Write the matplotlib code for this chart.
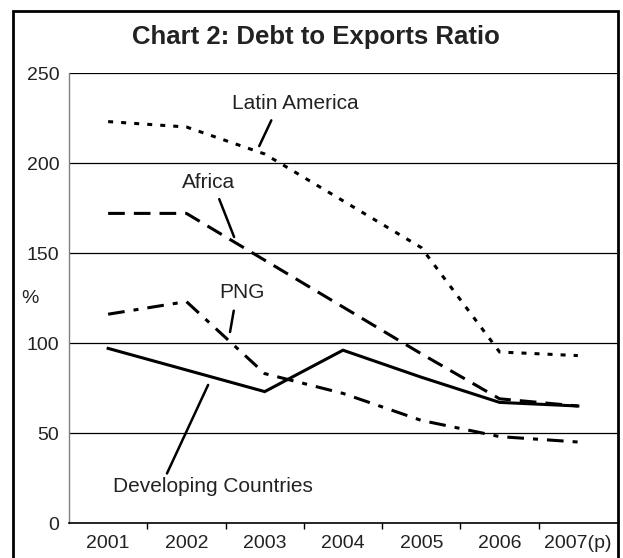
import matplotlib.pyplot as plt
from matplotlib.patches import Rectangle

plt.rcParams['font.family'] = ['Liberation Sans', 'DejaVu Sans']
plt.rcParams['lines.scale_dashes'] = False

years = ['2001', '2002', '2003', '2004', '2005', '2006', '2007(p)']
latin_america = [223, 220, 205, 179, 153, 95, 93]
africa = [172, 172, 146, 120, 94, 69, 65]
png = [116, 123, 83, 72, 57, 48, 45]
developing = [97, 85, 73, 96, 81, 67, 65]

text_col = '#222222'

fig = plt.figure(figsize=(6.23, 5.58), dpi=100)
ax = fig.add_axes([69 / 623, 1 - 523 / 558, 548 / 623, 450 / 558])

x = range(len(years))
ax.plot(x, latin_america, color='black', lw=2.2, dashes=(3.6, 5.8))
ax.plot(x, africa, color='black', lw=2.2, dashes=(12, 6.5))
ax.plot(x, png, color='black', lw=2.2, dashes=(12, 6.5, 3.6, 6.5))
ax.plot(x, developing, color='black', lw=2.2, solid_joinstyle='miter')

ax.set_xlim(-0.5, len(years) - 0.5)
ax.set_ylim(0, 250)
ax.set_yticks([0, 50, 100, 150, 200, 250])
ax.set_xticks(list(x))
ax.set_xticklabels(years)
ax.set_xticks([i + 0.5 for i in range(len(years) - 1)], minor=True)

for v in [50, 100, 150, 200, 250]:
    ax.axhline(v, color='black', lw=0.9, zorder=0)

ax.tick_params(axis='x', which='major', length=0, pad=9, labelsize=14, labelcolor=text_col)
ax.tick_params(axis='x', which='minor', length=4, width=1, color='black', direction='out')
ax.tick_params(axis='y', length=0, pad=7, labelsize=14, labelcolor=text_col)

ax.spines['top'].set_visible(False)
ax.spines['right'].set_visible(False)
ax.spines['left'].set_color('#808080')
ax.spines['left'].set_linewidth(1)
ax.spines['bottom'].set_color('black')
ax.spines['bottom'].set_linewidth(1.2)

ax.set_ylabel('%', rotation=0, fontsize=14, color=text_col, ha='center', va='center')
ax.yaxis.set_label_coords(-0.071, 0.5)

labels = [
    ('Latin America', (2.39, 233.3), (1.93, 209.4), (0.34, 0.0), 4),
    ('Africa', (1.277, 188.9), (1.609, 158.9), (0.66, 0.0), 3),
    ('PNG', (1.71, 127.8), (1.557, 106.1), (0.35, 0.0), 4),
    ('Developing Countries', (1.34, 20.0), (1.277, 76.7), (0.26, 1.0), 1),
]
for txt, pos, xy, rel, shr in labels:
    ax.annotate(txt, xy=xy, xytext=pos, ha='center', va='center',
                fontsize=15, color=text_col,
                arrowprops=dict(arrowstyle='-', color='black', lw=1.8,
                                relpos=rel, shrinkA=shr, shrinkB=0))

fig.text(316 / 623, 1 - 37 / 558, 'Chart 2: Debt to Exports Ratio',
         ha='center', va='center', fontsize=18.5, fontweight='bold', color=text_col)

fig.add_artist(Rectangle((13 / 623, -0.1), 605 / 623, 1.1 - 11 / 558,
                         transform=fig.transFigure, fill=False,
                         edgecolor='black', lw=2))

fig.savefig('out.png', dpi=100)
